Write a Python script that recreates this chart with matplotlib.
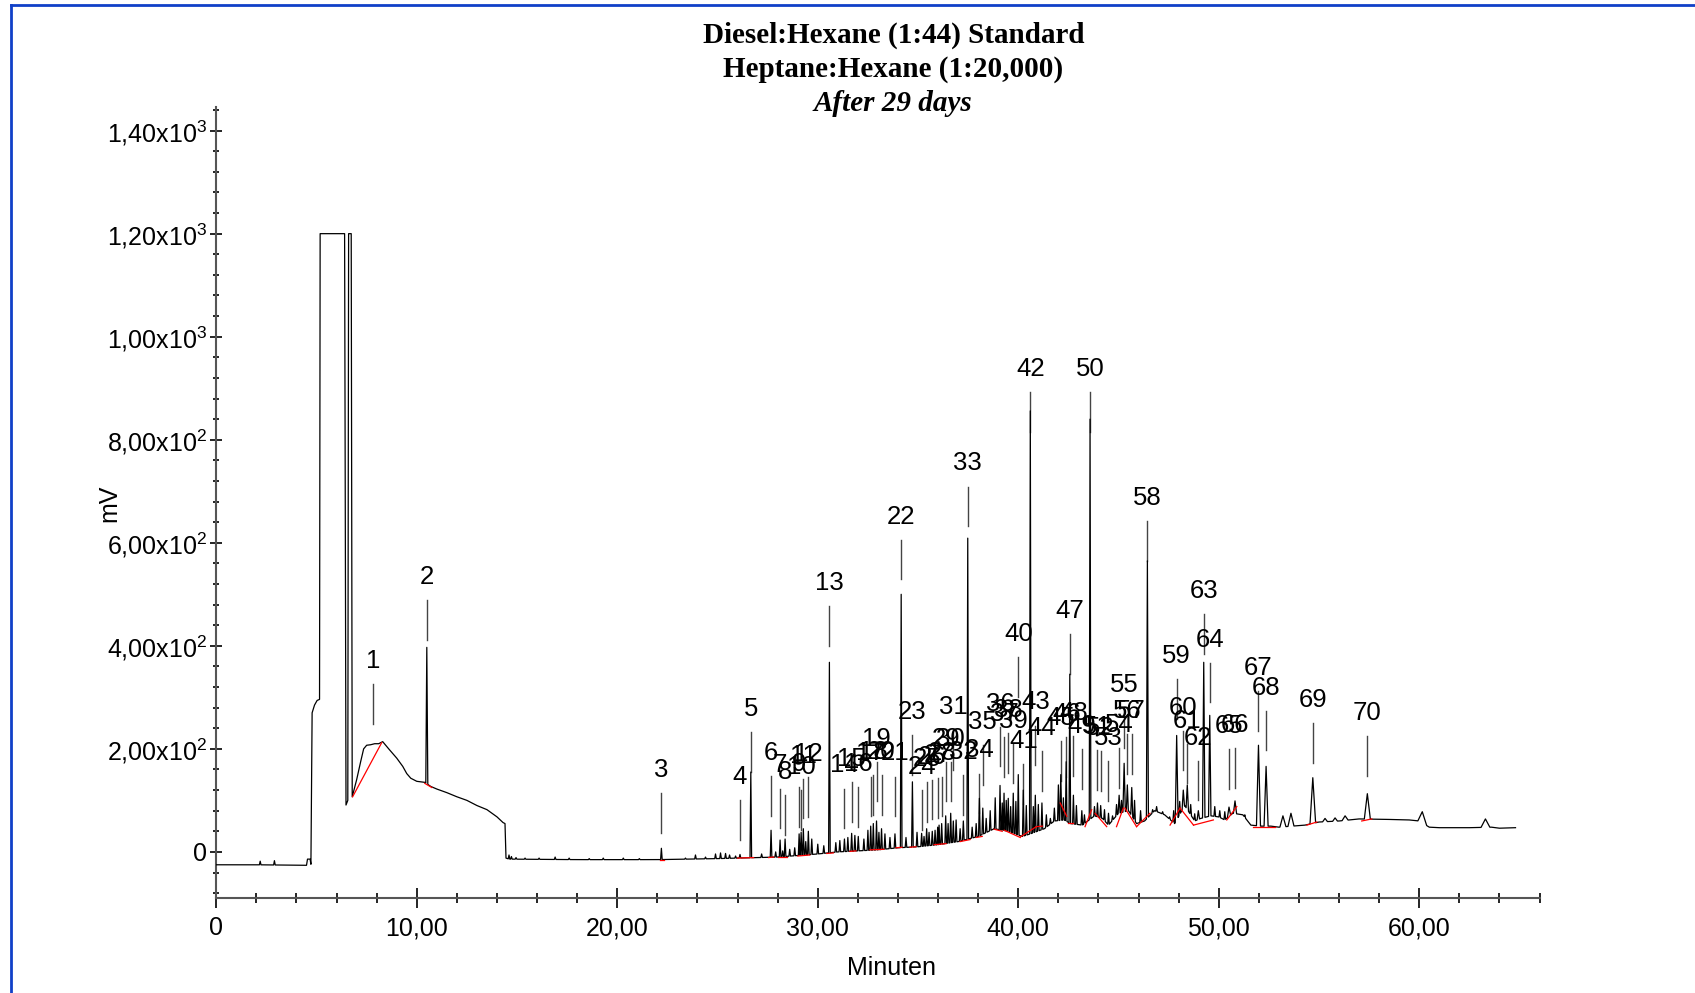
import numpy as np
import matplotlib
matplotlib.use("Agg")
import matplotlib.pyplot as plt
from matplotlib.lines import Line2D

plt.rcParams["font.family"] = ["Liberation Sans", "DejaVu Sans"]
plt.rcParams["mathtext.fontset"] = "custom"
plt.rcParams["mathtext.rm"] = "Liberation Sans"

# --- titles / axis text ---
title_lines = ["Diesel:Hexane (1:44) Standard", "Heptane:Hexane (1:20,000)", "After 29 days"]
x_label = "Minuten"
y_label = "mV"

x_ticks = [0, 10, 20, 30, 40, 50, 60]
x_tick_labels = ["0", "10,00", "20,00", "30,00", "40,00", "50,00", "60,00"]
y_ticks = [0, 200, 400, 600, 800, 1000, 1200, 1400]
y_tick_labels = ["0", r"2,00x10$^2$", r"4,00x10$^2$", r"6,00x10$^2$", r"8,00x10$^2$",
                 r"1,00x10$^3$", r"1,20x10$^3$", r"1,40x10$^3$"]

# --- background signal (min, mV): solvent front, clipped solvent peak, hump, drift ---
base_t = [0.0, 2.0, 4.5, 4.55, 4.68, 4.72, 4.78, 4.9, 5.03, 5.15, 5.18, 6.4, 6.47, 6.56, 6.6,
          6.73, 6.78, 7.0, 7.2, 7.35, 7.5, 7.7, 7.9, 8.1, 8.3, 8.6, 9.0, 9.3, 9.5, 9.7, 10.0,
          10.4, 10.7, 11.0, 11.5, 12.0, 12.5, 13.0, 13.5, 14.0, 14.3, 14.4, 14.45, 14.6, 18.0,
          22.0, 25.0, 28.0, 30.0, 31.0, 33.0, 34.0, 35.0, 36.0, 37.0, 38.0, 38.8, 39.5, 40.2,
          40.6, 41.3, 41.8, 42.3, 42.6, 43.2, 43.8, 44.2, 44.5, 45.0, 45.5, 45.9, 46.3, 46.8,
          47.3, 47.8, 48.3, 48.8, 49.1, 49.6, 50.0, 50.3, 50.7, 51.2, 51.6, 52.1, 52.6, 53.0,
          54.3, 55.0, 56.0, 57.0, 58.5, 59.5, 60.0, 60.5, 61.0, 62.5, 63.6, 64.0, 64.8]
base_v = [-25, -25, -26, -14, -14, -24, 270, 285, 294, 296, 1200, 1200, 91, 100, 1200,
          1200, 107, 140, 175, 200, 207, 208, 210, 210, 214, 200, 182, 166, 152, 143, 137,
          135, 127, 122, 115, 107, 100, 90, 82, 68, 57, 55, -12, -14, -15,
          -15, -13, -10, -4, 0, 4, 8, 10, 14, 20, 30, 45, 40, 30,
          35, 45, 60, 62, 55, 52, 70, 65, 52, 75, 80, 55, 60, 80,
          72, 55, 90, 60, 65, 70, 68, 62, 75, 72, 52, 50, 50, 48,
          52, 58, 60, 64, 63, 62, 60, 48, 47, 47, 48, 46, 47]

# --- labelled peaks: number, retention time (min), label height, apex (mV), half width ---
peak_nums = list(range(1, 71))
peak_t = [7.82, 10.50, 22.20, 26.12, 26.66, 27.67, 28.12, 28.37, 29.07, 29.17,
          29.28, 29.53, 30.58, 31.33, 31.69, 32.02, 32.64, 32.77, 32.93, 33.18,
          33.85, 34.16, 34.72, 35.18, 35.43, 35.71, 35.98, 36.18, 36.38, 36.63,
          36.76, 37.26, 37.48, 38.06, 38.23, 39.09, 39.29, 39.50, 39.75, 40.00,
          40.25, 40.60, 40.85, 41.18, 42.12, 42.39, 42.57, 42.75, 43.17, 43.58,
          43.95, 44.11, 44.50, 45.03, 45.28, 45.44, 45.66, 46.44, 47.90, 48.23,
          48.43, 48.98, 49.25, 49.55, 50.51, 50.81, 51.98, 52.36, 54.69, 57.41]
label_mv = [371, 534, 159, 146, 278, 192, 168, 155, 171, 165,
            187, 190, 522, 168, 181, 171, 191, 194, 220, 194,
            191, 651, 271, 165, 181, 185, 188, 191, 220, 220,
            281, 194, 754, 197, 252, 288, 268, 275, 255, 423,
            215, 938, 290, 241, 260, 268, 467, 269, 245, 938,
            243, 240, 221, 246, 323, 274, 274, 687, 380, 280,
            255, 222, 506, 412, 244, 246, 357, 319, 295, 269]
peak_apex = [None, 397, 7, -5, 155, 42, 23, 25, 35, 38,
             45, 40, 368, 25, 36, 30, 50, 55, 60, 45,
             35, 500, 136, 36, 45, 40, 48, 55, 70, 75,
             60, 60, 609, 104, 85, 129, 114, 104, 114, 150,
             120, 856, 110, 95, 150, 175, 345, 110, 80, 840,
             95, 90, 75, 110, 172, 130, 125, 565, 226, 120,
             130, 80, 368, 265, 87, 99, 207, 166, 144, 113]
peak_hw = [0.0, 0.05, 0.04, 0.04, 0.04, 0.04, 0.04, 0.04, 0.04, 0.04,
           0.04, 0.04, 0.04, 0.04, 0.04, 0.04, 0.04, 0.04, 0.04, 0.04,
           0.04, 0.04, 0.04, 0.04, 0.04, 0.04, 0.04, 0.04, 0.04, 0.04,
           0.04, 0.04, 0.04, 0.04, 0.04, 0.04, 0.04, 0.04, 0.04, 0.04,
           0.04, 0.04, 0.04, 0.04, 0.05, 0.04, 0.04, 0.04, 0.04, 0.04,
           0.04, 0.04, 0.04, 0.05, 0.06, 0.05, 0.05, 0.05, 0.07, 0.06,
           0.06, 0.06, 0.06, 0.06, 0.08, 0.08, 0.10, 0.10, 0.14, 0.15]

# --- unlabelled small peaks (min, mV apex, half width) ---
extra_t = [2.19, 2.90, 14.60, 14.72, 14.95, 15.40, 16.10, 16.90, 17.60, 18.60, 19.30, 20.30,
           21.10, 23.40, 23.90, 24.40, 24.90, 25.15, 25.40, 25.60, 25.90, 27.20, 27.90, 28.25,
           28.60, 28.85, 29.40, 29.70, 30.00, 30.30, 30.90, 31.10, 31.50, 31.85, 32.30, 32.50,
           33.05, 33.35, 33.60, 34.40, 34.95, 35.30, 35.55, 35.85, 36.05, 36.50, 36.90, 37.10,
           37.70, 37.90, 38.40, 38.60, 38.85, 39.20, 39.40, 39.62, 39.88, 40.40, 40.75, 41.00,
           41.40, 41.60, 41.80, 42.00, 42.25, 42.90, 43.30, 43.80, 44.30, 44.70, 44.90, 45.15,
           45.80, 46.10, 46.70, 46.90, 47.20, 47.55, 47.75, 48.05, 48.60, 48.80, 49.80, 50.05,
           50.30, 51.30, 53.20, 53.60, 55.30, 55.80, 56.30, 60.15, 63.30]
extra_apex = [-18, -17, -6, -9, -11, -12, -12, -10, -12, -13, -12, -12,
              -13, -12, -6, -10, -4, -2, -3, -6, -8, -4, 0, 2,
              5, 8, 20, 25, 15, 12, 18, 22, 28, 32, 25, 42,
              38, 35, 28, 28, 38, 30, 38, 42, 52, 55, 62, 45,
              48, 55, 65, 80, 105, 95, 100, 88, 98, 90, 88, 92,
              72, 65, 85, 130, 105, 90, 72, 88, 82, 70, 92, 100,
              100, 80, 82, 88, 78, 68, 80, 98, 92, 74, 88, 80,
              78, 72, 70, 75, 65, 66, 70, 78, 64]
extra_hw = [0.04] * 86 + [0.15, 0.15, 0.12, 0.12, 0.15, 0.22, 0.22]

# --- red integration baselines (t0, v0) -> (t1, v1) ---
bl_t0 = [6.80, 10.40, 22.15, 26.00, 27.55, 28.00, 29.00, 30.45, 31.60, 32.60, 33.90, 34.60,
         35.80, 37.10, 37.90, 38.80, 39.30, 40.10, 40.90, 42.09, 42.50, 43.33, 43.83, 44.90,
         45.32, 45.90, 47.57, 48.07, 48.74, 50.40, 51.73, 54.39, 57.13]
bl_v0 = [107, 133, -16, -12, -11, -10, -8, -3, 1, 4, 8, 9,
         14, 20, 28, 44, 42, 29, 49, 95, 56, 49, 75, 49,
         85, 49, 52, 85, 52, 62, 49, 52, 60]
bl_t1 = [8.25, 10.75, 22.35, 26.80, 27.80, 28.45, 29.60, 30.78, 31.90, 33.30, 34.20, 34.90,
         36.40, 37.60, 38.20, 39.20, 40.10, 40.90, 41.20, 42.42, 42.75, 43.66, 44.41, 45.24,
         45.90, 46.57, 48.07, 48.74, 49.73, 50.90, 52.82, 54.89, 57.63]
bl_v1 = [212, 125, -16, -11, -10, -10, -6, -2, 2, 5, 9, 10,
         16, 24, 30, 40, 28, 49, 50, 69, 56, 82, 49, 85,
         49, 75, 85, 52, 62, 88, 49, 58, 64]


def build_trace():
    """Baseline knots plus a triangular spike for every peak, merged in time order."""
    peaks = [(t, a, w) for t, a, w in zip(peak_t, peak_apex, peak_hw) if a is not None]
    peaks += list(zip(extra_t, extra_apex, extra_hw))
    pts = []
    for t, v in zip(base_t, base_v):
        if not any(abs(t - pt) < w for pt, _, w in peaks):
            pts.append((t, v))
    for t, a, w in peaks:
        pts.append((t - w, float(np.interp(t - w, base_t, base_v))))
        pts.append((t, a))
        pts.append((t + w, float(np.interp(t + w, base_t, base_v))))
    pts.sort(key=lambda p: p[0])
    return np.array([p[0] for p in pts]), np.array([p[1] for p in pts])


fig = plt.figure(figsize=(16.95, 9.93), dpi=100)
ax = fig.add_axes([0.1276, 0.0954, 0.9083 - 0.1276, 0.8918 - 0.0954])

tr_t, tr_v = build_trace()
ax.plot(tr_t, tr_v, color="black", lw=0.9, zorder=3)

for t0, v0, t1, v1 in zip(bl_t0, bl_v0, bl_t1, bl_v1):
    ax.plot([t0, t1], [v0, v1], color="red", lw=0.9, zorder=4)

for n, t, lv in zip(peak_nums, peak_t, label_mv):
    ax.plot([t, t], [lv - 45, lv - 122], color="#444444", lw=1.0, zorder=2)
    ax.text(t, lv, str(n), ha="center", va="center", fontsize=18.5, color="black", zorder=5)

ax.set_xlim(0, 66)
ax.set_ylim(-90, 1445)
for s in ["top", "right"]:
    ax.spines[s].set_visible(False)
for s in ["left", "bottom"]:
    ax.spines[s].set_color("#555555")
    ax.spines[s].set_linewidth(1.5)

ax.set_xticks(x_ticks)
ax.set_xticklabels(x_tick_labels, fontsize=18)
ax.set_xticks(np.arange(0, 67, 2), minor=True)
ax.set_yticks(y_ticks)
ax.set_yticklabels(y_tick_labels, fontsize=18)
ax.set_yticks(np.arange(-80, 1441, 40), minor=True)
ax.tick_params(axis="x", which="major", direction="inout", length=14, width=1.2, pad=6)
ax.tick_params(axis="x", which="minor", direction="inout", length=7, width=1.2)
ax.tick_params(axis="y", which="major", direction="inout", length=9, width=1.2, pad=2)
ax.tick_params(axis="y", which="minor", direction="inout", length=5, width=1.2)

ax.set_xlabel(x_label, fontsize=18)
ax.xaxis.set_label_coords(0.51, -0.073)
ax.set_ylabel(y_label, fontsize=18)
ax.yaxis.set_label_coords(-0.072, 0.5)

serif = ["Liberation Serif", "DejaVu Serif"]
fig.text(0.527, 0.964, title_lines[0], ha="center", va="center", fontsize=21,
         fontweight="bold", family=serif)
fig.text(0.527, 0.930, title_lines[1], ha="center", va="center", fontsize=21,
         fontweight="bold", family=serif)
fig.text(0.527, 0.896, title_lines[2], ha="center", va="center", fontsize=21,
         fontweight="bold", style="italic", family=serif)

# blue frame (top and left edges only)
fig.add_artist(Line2D([11 / 1695, 1.0], [1 - 5 / 993, 1 - 5 / 993], transform=fig.transFigure,
                      color="#1040c8", lw=2))
fig.add_artist(Line2D([11 / 1695, 11 / 1695], [0.0, 1 - 5 / 993], transform=fig.transFigure,
                      color="#1040c8", lw=2))

fig.savefig("out.png", dpi=100)
